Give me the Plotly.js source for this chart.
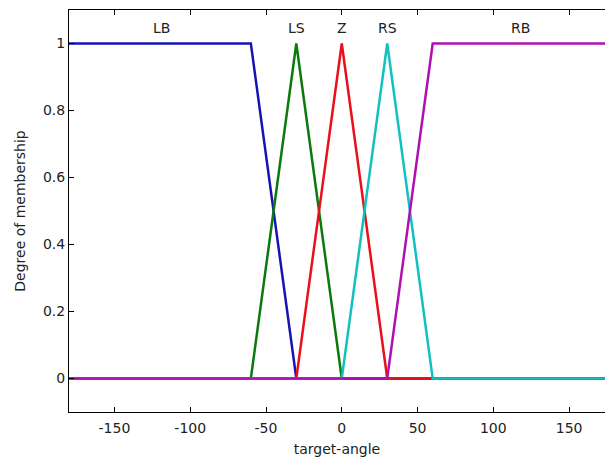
<!DOCTYPE html>
<html><head><meta charset="utf-8">
<script src="https://cdn.plot.ly/plotly-3.0.1.min.js"></script>
<style>html,body{margin:0;padding:0;background:#fff;overflow:hidden}</style>
</head><body><div id="chart" style="width:605px;height:461px"></div>
<script>
const mfNames = ["LB", "LS", "Z", "RS", "RB"];
const mfColors = ["#1414b4", "#0a7a0a", "#e8101a", "#12c0c0", "#b010b0"];
const mfX = [
  [-180, -60, -30, 180],
  [-180, -60, -30, 0, 180],
  [-180, -30, 0, 30, 180],
  [-180, 0, 30, 60, 180],
  [-180, 30, 60, 180]
];
const mfY = [
  [1, 1, 0, 0],
  [0, 0, 1, 0, 0],
  [0, 0, 1, 0, 0],
  [0, 0, 1, 0, 0],
  [0, 0, 1, 1]
];
const labelX = [-119, -30, 0, 30, 118];
const labelY = 1.045;
const xTicks = [-150, -100, -50, 0, 50, 100, 150];
const xTickText = ["-150", "-100", "-50", "0", "50", "100", "150"];
const yTicks = [0, 0.2, 0.4, 0.6, 0.8, 1];
const yTickText = ["0", "0.2", "0.4", "0.6", "0.8", "1"];

const FONT = 'DejaVu Sans, Liberation Sans, Arial, sans-serif';
const traces = mfNames.map((n, i) => ({
  x: mfX[i], y: mfY[i], type: 'scatter', mode: 'lines', name: n,
  line: {color: mfColors[i], width: 2.5}, hoverinfo: 'skip'
}));

const annotations = mfNames.map((n, i) => ({
  x: labelX[i], y: labelY, xref: 'x', yref: 'y', text: n, showarrow: false,
  font: {family: FONT, size: 14, color: '#222'}
}));

const layout = {
  width: 605, height: 461,
  margin: {l: 69, r: 0, t: 10, b: 49},
  paper_bgcolor: '#fff', plot_bgcolor: '#fff',
  showlegend: false,
  font: {family: FONT, size: 14, color: '#222'},
  xaxis: {
    range: [-180, 173.7], tickvals: xTicks, ticktext: xTickText, ticks: 'inside', ticklen: 5, tickcolor: '#000',
    showline: true, linecolor: '#000', linewidth: 1, mirror: 'ticks', showgrid: false, zeroline: false,
    ticklabelstandoff: 3,
    title: {text: 'target-angle', font: {size: 14}, standoff: 9}
  },
  yaxis: {
    range: [-0.1, 1.1], tickvals: yTicks, ticktext: yTickText,
    ticks: 'inside', ticklen: 5, tickcolor: '#000',
    showline: true, linecolor: '#000', linewidth: 1, showgrid: false, zeroline: false,
    title: {text: 'Degree of membership', font: {size: 14}, standoff: 14}
  },
  annotations: annotations
};
Plotly.newPlot('chart', traces, layout, {staticPlot: true, displayModeBar: false});
</script></body></html>
